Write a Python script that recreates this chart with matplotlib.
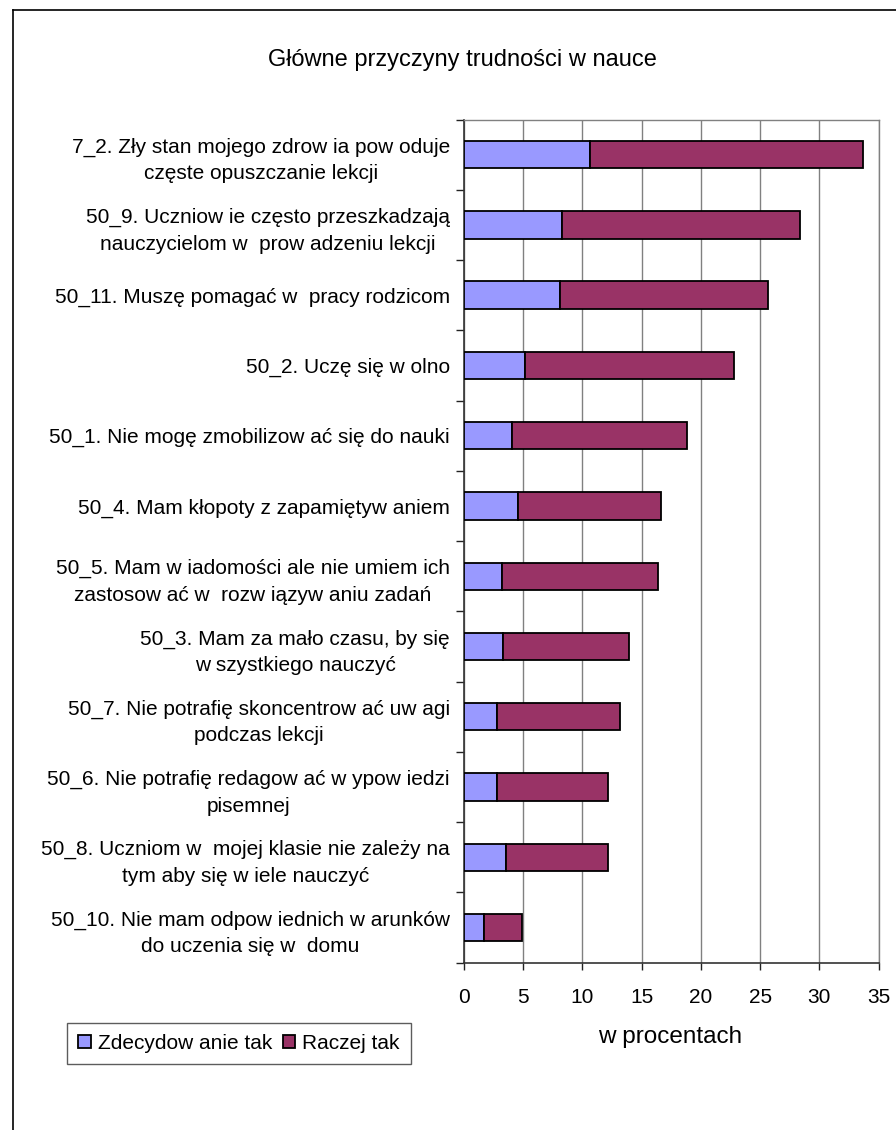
import numpy as np
import matplotlib
matplotlib.use("Agg")
import matplotlib.pyplot as plt
from matplotlib.lines import Line2D

plt.rcParams['font.family'] = ['Liberation Sans', 'DejaVu Sans']

categories = [
    "7_2. Zły stan mojego zdrow ia pow oduje\nczęste opuszczanie lekcji",
    "50_9. Uczniow ie często przeszkadzają\nnauczycielom w  prow adzeniu lekcji",
    "50_11. Muszę pomagać w  pracy rodzicom",
    "50_2. Uczę się w olno",
    "50_1. Nie mogę zmobilizow ać się do nauki",
    "50_4. Mam kłopoty z zapamiętyw aniem",
    "50_5. Mam w iadomości ale nie umiem ich\nzastosow ać w  rozw iązyw aniu zadań",
    "50_3. Mam za mało czasu, by się\nw szystkiego nauczyć",
    "50_7. Nie potrafię skoncentrow ać uw agi\npodczas lekcji",
    "50_6. Nie potrafię redagow ać w ypow iedzi\npisemnej",
    "50_8. Uczniom w  mojej klasie nie zależy na\ntym aby się w iele nauczyć",
    "50_10. Nie mam odpow iednich w arunków\ndo uczenia się w  domu",
]
zdecydowanie_tak = [10.65, 8.3, 8.1, 5.2, 4.05, 4.55, 3.2, 3.35, 2.85, 2.85, 3.55, 1.7]
raczej_tak = [23.0, 20.1, 17.6, 17.6, 14.75, 12.05, 13.2, 10.55, 10.35, 9.35, 8.65, 3.2]
series_names = ["Zdecydow anie tak", "Raczej tak"]
xticks = [0, 5, 10, 15, 20, 25, 30, 35]
title = "Główne przyczyny trudności w nauce"
xlabel = "w procentach"

W, H = 896, 1130
fig = plt.figure(figsize=(W / 100, H / 100), dpi=100)
fig.patch.set_facecolor("white")

left, right, top, bottom = 463.7, 878.7, 119.5, 962.7
ax = fig.add_axes([left / W, 1 - bottom / H, (right - left) / W, (bottom - top) / H])

y = np.arange(len(categories))
c1, c2 = "#9999FF", "#993366"
ax.barh(y, zdecydowanie_tak, height=0.39, color=c1, edgecolor="black", linewidth=1.3,
        label=series_names[0], zorder=3)
ax.barh(y, raczej_tak, left=zdecydowanie_tak, height=0.39, color=c2, edgecolor="black",
        linewidth=1.3, label=series_names[1], zorder=3)

FS = 15
ax.set_xlim(0, 35)
ax.set_ylim(len(categories) - 0.5, -0.5)
ax.set_xticks(xticks)
ax.set_xticklabels([str(t) for t in xticks], fontsize=FS)
ax.xaxis.grid(True, color="#808080", linewidth=1.0, zorder=0)
ax.set_axisbelow(True)

ax.set_yticks(y)
ax.set_yticklabels(categories, fontsize=FS, multialignment="center", linespacing=1.5)
ax.tick_params(axis="y", which="major", length=0, pad=10)
ax.set_yticks(np.arange(-0.5, len(categories), 1.0), minor=True)
ax.tick_params(axis="y", which="minor", length=6, width=1, color="#222222", direction="out")
ax.tick_params(axis="x", which="major", length=5, width=1, color="#222222", direction="out", pad=13)

for s in ["top", "right"]:
    ax.spines[s].set_color("#808080")
    ax.spines[s].set_linewidth(1.0)
for s in ["left", "bottom"]:
    ax.spines[s].set_color("#333333")
    ax.spines[s].set_linewidth(1.2)

fig.text(462 / W, 1 - 60 / H, title, ha="center", va="center", fontsize=17)
fig.text(670 / W, 1 - 1037 / H, xlabel, ha="center", va="center", fontsize=17.5)

handles, labels = ax.get_legend_handles_labels()
leg = fig.legend(handles, labels, loc="center", bbox_to_anchor=(239 / W, 1 - 1043.5 / H),
                 ncol=2, fontsize=FS, frameon=True, fancybox=False, edgecolor="#333333",
                 handlelength=0.6, handleheight=0.6, handletextpad=0.35, columnspacing=0.5,
                 borderpad=0.55, borderaxespad=0)
leg.get_frame().set_linewidth(1.0)

# outer chart frame (cut off on right and bottom)
fig.add_artist(Line2D([12.7 / W, 12.7 / W], [0, 1 - 10 / H], color="black", linewidth=1.2,
                      transform=fig.transFigure))
fig.add_artist(Line2D([12.7 / W, 1.0], [1 - 10 / H, 1 - 10 / H], color="black", linewidth=1.2,
                      transform=fig.transFigure))

fig.savefig("out.png", dpi=100, facecolor="white")
